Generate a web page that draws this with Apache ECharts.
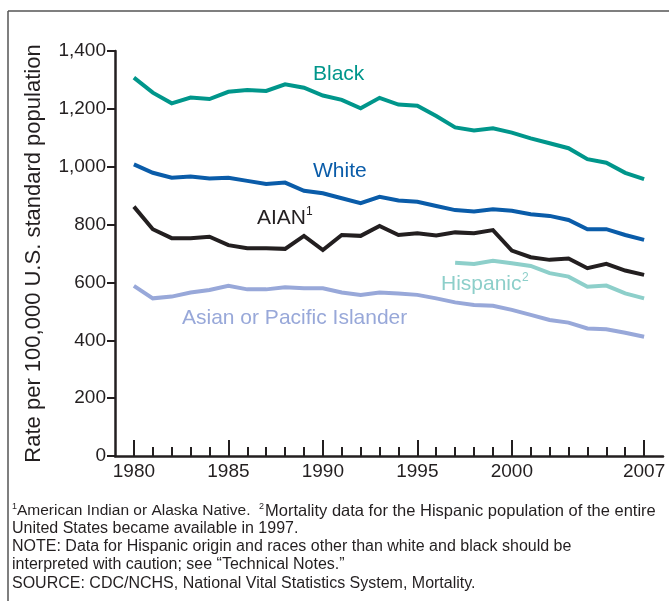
<!DOCTYPE html>
<html>
<head>
<meta charset="utf-8">
<script src="https://cdn.jsdelivr.net/npm/echarts@6.0.0/dist/echarts.min.js"></script>
<style>
  html, body { margin: 0; padding: 0; background: #fff; }
  #chart { width: 669px; height: 601px; }
</style>
</head>
<body>
<div id="chart"></div>
<script>
// years on the x axis
const years = [1980, 1981, 1982, 1983, 1984, 1985, 1986, 1987, 1988, 1989, 1990, 1991, 1992, 1993,
  1994, 1995, 1996, 1997, 1998, 1999, 2000, 2001, 2002, 2003, 2004, 2005, 2006, 2007];
const yearLabels = [1980, 1985, 1990, 1995, 2000, 2007];
const yTicks = [0, 200, 400, 600, 800, 1000, 1200, 1400];

// rates per 100,000
const black = [1308, 1256, 1219, 1239, 1234, 1259, 1265, 1262, 1285, 1273, 1246, 1231, 1202, 1238,
  1215, 1211, 1175, 1136, 1125, 1133, 1118, 1098, 1081, 1064, 1026, 1014, 979, 957];
const white = [1008, 979, 962, 966, 959, 962, 951, 940, 945, 917, 908, 891, 874, 896,
  883, 879, 864, 850, 845, 853, 848, 836, 830, 816, 784, 784, 764, 747];
const aian = [862, 784, 753, 753, 758, 729, 718, 718, 716, 761, 712, 764, 761, 795,
  764, 770, 762, 773, 770, 781, 710, 687, 678, 683, 649, 664, 641, 626];
// Hispanic data starts in 1997
const hispanic = [null, null, null, null, null, null, null, null, null, null, null, null, null, null,
  null, null, null, 668, 664, 675, 666, 657, 632, 620, 585, 589, 562, 545];
const asian = [588, 545, 551, 565, 574, 588, 576, 576, 583, 580, 580, 565, 557, 565,
  562, 557, 545, 531, 522, 519, 505, 488, 470, 461, 441, 438, 426, 412];

const FONT = '"Liberation Sans", Arial, sans-serif';
const INK = '#231f20';

const colors = {
  black: '#00968b',
  white: '#0a5ca9',
  aian: '#231f20',
  hispanic: '#8dcfca',
  asian: '#98a8d9',
};

const pairs = (arr) => years.map((y, i) => [y, arr[i]]);

const lineSeries = (name, arr, color) => ({
  name,
  type: 'line',
  data: pairs(arr),
  showSymbol: false,
  connectNulls: false,
  lineStyle: { color, width: 4, join: 'miter' },
  itemStyle: { color },
  emphasis: { disabled: true },
  silent: true,
});

const chart = echarts.init(document.getElementById('chart'), null, { renderer: 'canvas' });

// 图中的说明文字
const notes = [
  { text: 'United States became available in 1997.', y: 529 },
  { text: 'NOTE: Data for Hispanic origin and races other than white and black should be', y: 547 },
  { text: 'interpreted with caution; see \u201cTechnical Notes.\u201d', y: 565 },
  { text: 'SOURCE: CDC/NCHS, National Vital Statistics System, Mortality.', y: 584 },
];

const textEl = (x, y, text, color, size) => ({
  type: 'text',
  x,
  y,
  style: { text, fill: color, font: `${size}px ${FONT}`, align: 'left', verticalAlign: 'middle' },
  silent: true,
});

chart.setOption({
  animation: false,
  grid: { left: 115, top: 51, width: 548, height: 405, containLabel: false },
  xAxis: [{
    type: 'value',
    min: 1979,
    max: 2008,
    axisLine: { show: true, lineStyle: { color: INK, width: 2.5 } },
    axisTick: { show: true, inside: true, length: 9, customValues: years, lineStyle: { color: INK, width: 2 } },
    axisLabel: {
      customValues: yearLabels,
      color: INK, fontSize: 19, fontFamily: FONT, margin: 6,
      formatter: (v) => String(v),
    },
    splitLine: { show: false },
  }, {
    // taller ticks at the labelled years
    type: 'value',
    position: 'bottom',
    min: 1979,
    max: 2008,
    axisLine: { show: false },
    axisTick: { show: true, inside: true, length: 16, customValues: yearLabels, lineStyle: { color: INK, width: 2 } },
    axisLabel: { show: false },
    splitLine: { show: false },
  }],
  yAxis: {
    type: 'value',
    min: 0,
    max: 1400,
    interval: 200,
    name: 'Rate per 100,000 U.S. standard population',
    nameLocation: 'middle',
    nameGap: 70,
    nameTextStyle: { color: INK, fontSize: 22, fontFamily: FONT },
    axisLine: { show: true, lineStyle: { color: INK, width: 2.5 } },
    axisTick: { show: true, length: 8, lineStyle: { color: INK, width: 2 } },
    axisLabel: {
      color: INK, fontSize: 19, fontFamily: FONT, margin: 9,
      formatter: (v) => yTicks.includes(v) ? v.toLocaleString('en-US') : '',
    },
    splitLine: { show: false },
  },
  series: [
    lineSeries('Asian or Pacific Islander', asian, colors.asian),
    lineSeries('Hispanic', hispanic, colors.hispanic),
    lineSeries('AIAN', aian, colors.aian),
    lineSeries('White', white, colors.white),
    lineSeries('Black', black, colors.black),
  ],
  graphic: [
    // frame
    { type: 'line', shape: { x1: 8, y1: 11, x2: 669, y2: 11 }, style: { stroke: '#555', lineWidth: 1.5 }, silent: true },
    { type: 'line', shape: { x1: 8, y1: 11, x2: 8, y2: 601 }, style: { stroke: '#555', lineWidth: 1.5 }, silent: true },
    // series labels
    textEl(313, 74, 'Black', colors.black, 21),
    textEl(313, 171, 'White', colors.white, 21),
    textEl(257, 218, 'AIAN', colors.aian, 21),
    textEl(306, 212, '1', colors.aian, 12),
    textEl(441, 284, 'Hispanic', colors.hispanic, 21),
    textEl(522, 278, '2', colors.hispanic, 12),
    textEl(182, 318, 'Asian or Pacific Islander', colors.asian, 21),
    // footnotes
    textEl(12, 507, '1', INK, 9),
    textEl(17, 511, 'American Indian or Alaska Native.', INK, 15.5),
    textEl(259, 507, '2', INK, 9),
    textEl(265, 511, 'Mortality data for the Hispanic population of the entire', INK, 16.5),
    ...notes.map((n) => textEl(12, n.y, n.text, INK, 16)),
  ],
});
</script>
</body>
</html>
